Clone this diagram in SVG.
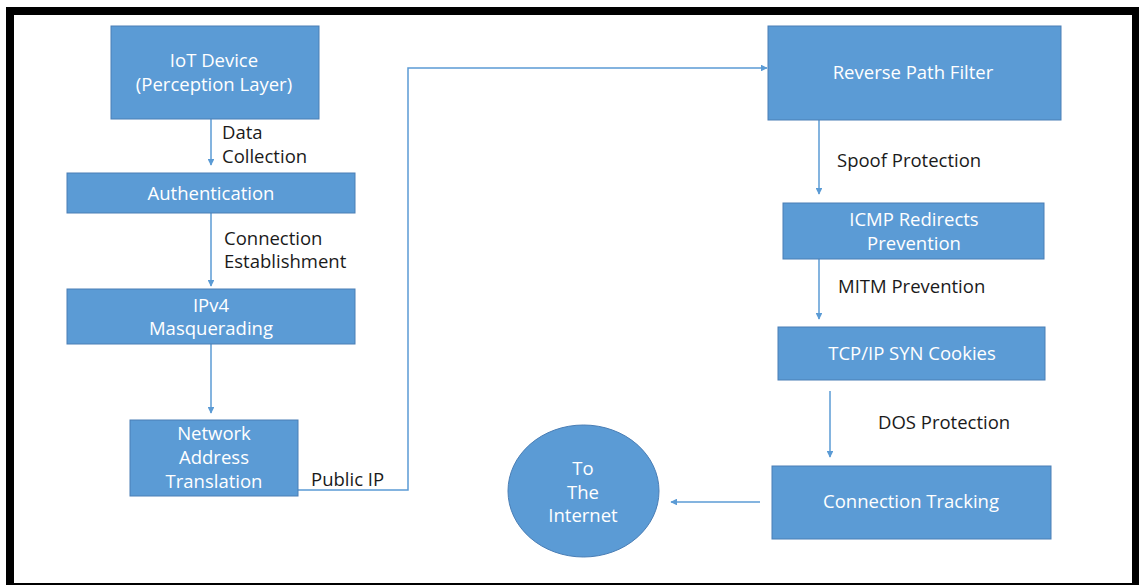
<svg xmlns="http://www.w3.org/2000/svg" width="1140" height="585" viewBox="0 0 1140 585">
<defs>
<style>
.box{fill:#5B9BD5;stroke:#4A7EB5;stroke-width:1}
.bt{font-family:"Open Sans","Liberation Sans",sans-serif;font-size:18.5px;fill:#FFFFFF;text-anchor:middle}
.lt{font-family:"Open Sans","Liberation Sans",sans-serif;font-size:18.5px;fill:#1A1A1A}
.con{fill:none;stroke:#5B9BD5;stroke-width:1.5}
</style>
<marker id="ah" viewBox="0 0 10 10" refX="9" refY="5" markerWidth="4.5" markerHeight="4.5" orient="auto" markerUnits="strokeWidth">
<path d="M0,0 L10,5 L0,10 Z" fill="#5B9BD5"/>
</marker>
</defs>
<rect x="0" y="0" width="1140" height="585" fill="#FFFFFF"/>
<g id="frame">
<rect x="6" y="7" width="1133" height="8" fill="#000"/>
<rect x="6" y="7" width="8" height="578" fill="#000"/>
<rect x="1132" y="7" width="7" height="578" fill="#000"/>
<rect x="6" y="583" width="1133" height="2" fill="#000"/>
</g>
<g id="connectors">
<line class="con" x1="211" y1="119" x2="211" y2="165" marker-end="url(#ah)"/>
<line class="con" x1="211" y1="213" x2="211" y2="286" marker-end="url(#ah)"/>
<line class="con" x1="211" y1="344" x2="211" y2="413" marker-end="url(#ah)"/>
<polyline class="con" points="298,490 408,490 408,68 767,68" marker-end="url(#ah)"/>
<line class="con" x1="819" y1="120" x2="819" y2="194" marker-end="url(#ah)"/>
<line class="con" x1="819" y1="259" x2="819" y2="319" marker-end="url(#ah)"/>
<line class="con" x1="830" y1="391" x2="830" y2="457" marker-end="url(#ah)"/>
<line class="con" x1="760" y1="502" x2="671" y2="502" marker-end="url(#ah)"/>
<text class="lt" x="222" y="139">Data</text>
<text class="lt" x="222" y="163">Collection</text>
<text class="lt" x="224" y="245">Connection</text>
<text class="lt" x="224" y="268">Establishment</text>
<text class="lt" x="311" y="486">Public IP</text>
<text class="lt" x="837" y="167">Spoof Protection</text>
<text class="lt" x="838" y="293">MITM Prevention</text>
<text class="lt" x="878" y="429">DOS Protection</text>
</g>
<g id="iot">
<rect class="box" x="111" y="26" width="208" height="93"/>
<text class="bt" x="214" y="67">IoT Device</text>
<text class="bt" x="214" y="91">(Perception Layer)</text>
</g>
<g id="auth">
<rect class="box" x="67" y="173" width="288" height="40"/>
<text class="bt" x="211" y="200">Authentication</text>
</g>
<g id="ipv4">
<rect class="box" x="67" y="289" width="288" height="55"/>
<text class="bt" x="211" y="312">IPv4</text>
<text class="bt" x="211" y="335">Masquerading</text>
</g>
<g id="nat">
<rect class="box" x="130" y="420" width="168" height="76"/>
<text class="bt" x="214" y="440">Network</text>
<text class="bt" x="214" y="464">Address</text>
<text class="bt" x="214" y="488">Translation</text>
</g>
<g id="rpf">
<rect class="box" x="768" y="26" width="293" height="94"/>
<text class="bt" x="913" y="79">Reverse Path Filter</text>
</g>
<g id="icmp">
<rect class="box" x="783" y="203" width="261" height="56"/>
<text class="bt" x="914" y="226">ICMP Redirects</text>
<text class="bt" x="914" y="250">Prevention</text>
</g>
<g id="tcp">
<rect class="box" x="778" y="327" width="267" height="53"/>
<text class="bt" x="912" y="360">TCP/IP SYN Cookies</text>
</g>
<g id="conntrack">
<rect class="box" x="772" y="466" width="279" height="73"/>
<text class="bt" x="911" y="508">Connection Tracking</text>
</g>
<g id="internet">
<ellipse class="box" cx="583.5" cy="491" rx="75.5" ry="66"/>
<text class="bt" x="583" y="475">To</text>
<text class="bt" x="583" y="499">The</text>
<text class="bt" x="583" y="522">Internet</text>
</g>
</svg>
